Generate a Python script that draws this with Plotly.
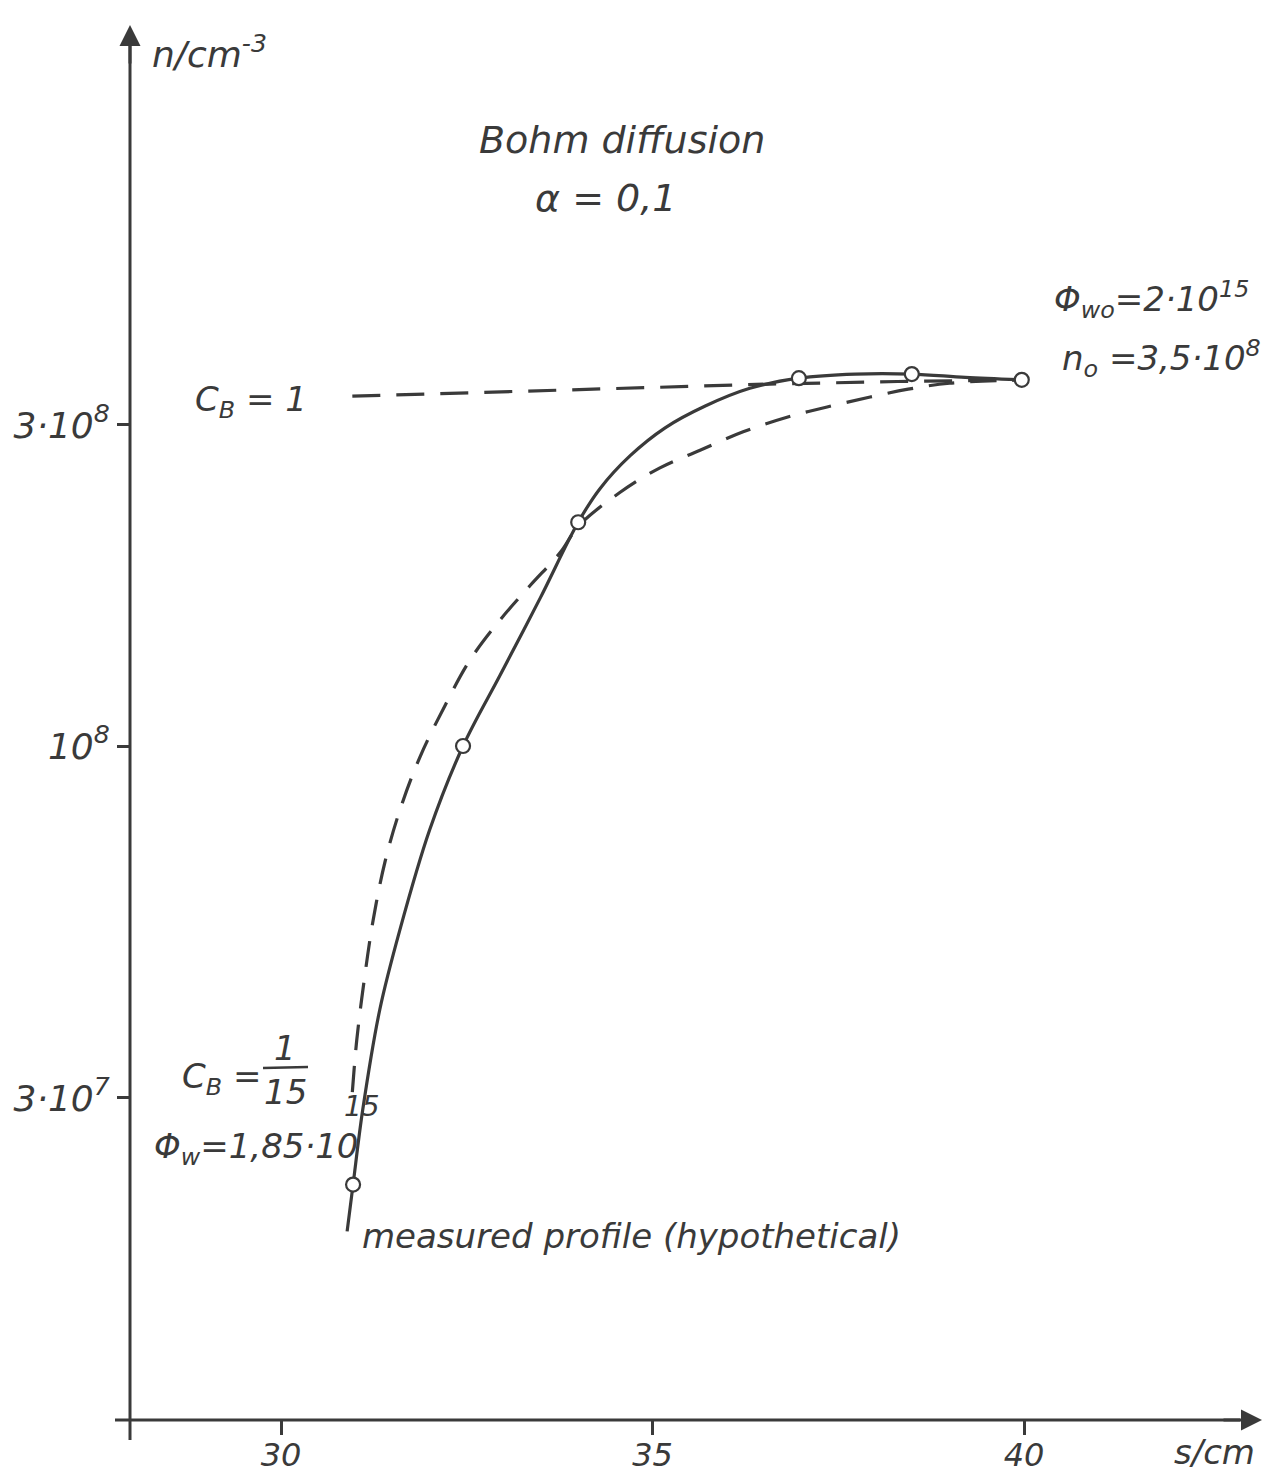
import plotly.graph_objects as go

# ---------------- data ----------------
# measured profile (hypothetical): solid curve and its marked points
s_points = [30.97, 32.45, 34.0, 36.97, 38.49, 39.97]
n_points = [2.23e7, 1.0e8, 2.15e8, 3.52e8, 3.57e8, 3.5e8]

s_solid = [30.89, 30.97, 31.10, 31.33, 31.60, 32.0, 32.45, 32.95, 33.49, 34.0,
           34.29, 34.70, 35.17, 35.71, 36.31, 36.97, 37.73, 38.49, 39.21, 39.97]
n_solid = [1.90e7, 2.23e7, 2.88e7, 4.06e7, 5.33e7, 7.50e7, 1.0e8, 1.275e8, 1.66e8, 2.15e8,
           2.41e8, 2.70e8, 2.97e8, 3.20e8, 3.40e8, 3.52e8, 3.57e8, 3.57e8, 3.53e8, 3.5e8]

# computed profile C_B = 1/15 (dashed)
s_cb15 = [30.96, 31.02, 31.12, 31.24, 31.40, 31.60, 31.87, 32.21, 32.54, 32.95,
          33.35, 33.76, 34.0, 34.56, 35.10, 35.64, 36.22, 36.81, 37.35, 37.93,
          38.44, 39.0, 39.97]
n_cb15 = [3.06e7, 3.66e7, 4.49e7, 5.51e7, 6.73e7, 8.03e7, 9.63e7, 1.15e8, 1.34e8, 1.54e8,
          1.73e8, 1.94e8, 2.12e8, 2.38e8, 2.59e8, 2.75e8, 2.93e8, 3.08e8, 3.19e8, 3.30e8,
          3.39e8, 3.46e8, 3.5e8]

# computed profile C_B = 1 (dashed)
s_cb1 = [30.96, 36.58, 38.3, 39.97]
n_cb1 = [3.31e8, 3.45e8, 3.48e8, 3.5e8]

x_tickvals = [30, 35, 40]
x_ticktext = ["30", "35", "40"]
y_tickvals = [3e7, 1e8, 3e8]
y_ticktext = ["3·10<sup>7</sup>", "10<sup>8</sup>", "3·10<sup>8</sup>"]

# ---------------- layout geometry ----------------
W, H = 1274, 1481
L, R, T, B = 130, 12, 25, 61
X30_PX, PX_PER_CM = 281.0, 74.3
PX_PER_DEC = 673.0


def xpx(px):
    return 30 + (px - X30_PX) / PX_PER_CM


def ylog(py):
    return 8 + (746 - py) / PX_PER_DEC


def pxp(px):
    return (px - L) / (W - L - R)


def pyp(py):
    return (H - B - py) / (H - T - B)


INK = "#3a3a3a"
FONT = "DejaVu Sans"

fig = go.Figure()
fig.add_trace(go.Scatter(x=s_cb1, y=n_cb1, mode="lines",
                         line=dict(color=INK, width=3.2, dash="28px,16px")))
fig.add_trace(go.Scatter(x=s_cb15, y=n_cb15, mode="lines", line_shape="spline",
                         line=dict(color=INK, width=3.2, dash="26px,16px")))
fig.add_trace(go.Scatter(x=s_solid, y=n_solid, mode="lines", line_shape="spline",
                         line=dict(color=INK, width=3.2)))
fig.add_trace(go.Scatter(x=s_points, y=n_points, mode="markers",
                         marker=dict(size=14, color="white",
                                     line=dict(color=INK, width=2.2))))

fig.update_layout(
    width=W, height=H,
    margin=dict(l=L, r=R, t=T, b=B, autoexpand=False),
    paper_bgcolor="white", plot_bgcolor="white",
    showlegend=False,
    font=dict(family=FONT, color=INK, size=34),
    xaxis=dict(range=[xpx(L), xpx(W - R)], showgrid=False, zeroline=False,
               showline=False, automargin=False, tickvals=x_tickvals,
               ticktext=["<i>%s</i>" % t for t in x_ticktext],
               ticks="outside", ticklen=14, tickwidth=2.5, tickcolor=INK,
               ticklabelstandoff=-7,
               tickfont=dict(size=32, family=FONT, color=INK)),
    yaxis=dict(type="log", range=[ylog(H - B), ylog(T)], showgrid=False,
               zeroline=False, showline=False, automargin=False,
               tickvals=y_tickvals,
               ticktext=["<i>%s</i>" % t for t in y_ticktext],
               ticks="outside", ticklen=12, tickwidth=2.5, tickcolor=INK,
               tickfont=dict(size=36, family=FONT, color=INK)),
)

# axis lines (crossing at the origin corner)
fig.add_shape(type="line", xref="paper", yref="paper",
              x0=pxp(115), x1=pxp(1240), y0=0, y1=0,
              line=dict(color=INK, width=3))
fig.add_shape(type="line", xref="paper", yref="paper",
              x0=0, x1=0, y0=pyp(1440), y1=pyp(45),
              line=dict(color=INK, width=3))
# arrow heads
fig.add_annotation(xref="paper", yref="paper", x=pxp(1262), y=0,
                   ax=-40, ay=0, showarrow=True, arrowhead=2, arrowsize=1.4,
                   arrowwidth=3, arrowcolor=INK, text="")
fig.add_annotation(xref="paper", yref="paper", x=0, y=pyp(25),
                   ax=0, ay=40, showarrow=True, arrowhead=2, arrowsize=1.4,
                   arrowwidth=3, arrowcolor=INK, text="")

# fraction bar in C_B = 1/15
fig.add_shape(type="line", xref="paper", yref="paper",
              x0=pxp(263), x1=pxp(308), y0=pyp(1068), y1=pyp(1067),
              line=dict(color=INK, width=2.5))


def txt(px, py, s, size=34, anchor="left"):
    fig.add_annotation(xref="paper", yref="paper", x=pxp(px), y=pyp(py),
                       text="<i>%s</i>" % s, showarrow=False, xanchor=anchor,
                       yanchor="middle", font=dict(size=size, family=FONT, color=INK))


txt(150, 52, "n/cm<sup>-3</sup>", 36)
txt(622, 140, "Bohm diffusion", 38, "center")
txt(605, 198, "α = 0,1", 38, "center")
txt(193, 402, "C<sub>B</sub> = 1", 34)
txt(1052, 300, "Φ<sub>wo</sub>=2·10<sup>15</sup>", 34)
txt(1060, 358, "n<sub>o</sub> =3,5·10<sup>8</sup>", 34)
txt(180, 1078, "C<sub>B</sub> =", 34)
txt(285, 1048, "1", 34, "center")
txt(285, 1092, "15", 34, "center")
txt(152, 1148, "Φ<sub>w</sub>=1,85·10", 34)
txt(342, 1106, "15", 28)
txt(360, 1236, "measured profile (hypothetical)", 34)
txt(1172, 1452, "s/cm", 34)

fig.write_html("out.html")
